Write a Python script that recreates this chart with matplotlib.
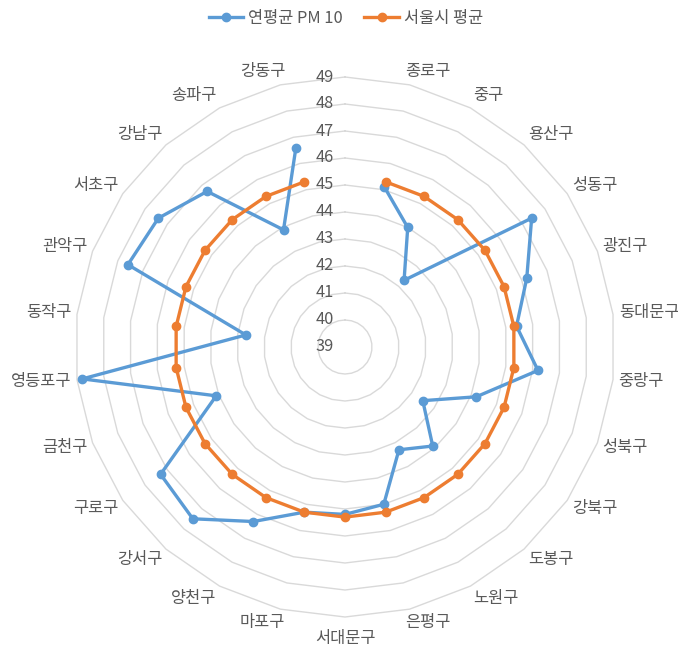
import numpy as np
import matplotlib
matplotlib.use("Agg")
import matplotlib.pyplot as plt
from matplotlib.lines import Line2D

plt.rcParams['font.family'] = ['Noto Sans CJK KR', 'DejaVu Sans']

# Seoul districts, clockwise from the top (the top spoke itself is left blank)
districts = ["종로구", "중구", "용산구", "성동구", "광진구", "동대문구", "중랑구",
             "성북구", "강북구", "도봉구", "노원구", "은평구", "서대문구", "마포구",
             "양천구", "강서구", "구로구", "금천구", "영등포구", "동작구", "관악구",
             "서초구", "강남구", "송파구", "강동구"]

pm10_annual = [45.1, 44.0, 42.3, 47.4, 46.2, 45.4, 46.2, 44.2, 42.5, 43.9,
               43.3, 45.0, 45.2, 45.3, 46.3, 47.5, 47.3, 44.1, 48.8, 42.7,
               47.6, 47.4, 46.7, 43.9, 46.6]

seoul_avg = [45.3] * 25

series_names = ["연평균 PM 10", "서울시 평균"]
radial_ticks = [39, 40, 41, 42, 43, 44, 45, 46, 47, 48, 49]

BLUE = "#5B9BD5"
ORANGE = "#ED7D31"
GRID = "#D9D9D9"
TEXT = "#595959"
FS = 11.8

W, H = 678, 654
fig = plt.figure(figsize=(W / 100, H / 100), dpi=100)

cx, cy, R = 345, 347, 270
ax = fig.add_axes([(cx - R) / W, (H - cy - R) / H, 2 * R / W, 2 * R / H],
                  projection="polar")
ax.set_theta_zero_location("N")
ax.set_theta_direction(-1)
rmin, rmax = radial_ticks[0], radial_ticks[-1]
ax.set_ylim(rmin, rmax)
ax.grid(False)
ax.spines["polar"].set_visible(False)
ax.set_xticks([])
ax.set_yticks([])
ax.patch.set_alpha(0)

n_spokes = len(districts) + 1
spoke_angles = np.arange(n_spokes + 1) * 2 * np.pi / n_spokes
theta = spoke_angles[1:n_spokes]

# polygonal gridlines
for v in radial_ticks[1:]:
    ax.plot(spoke_angles, [v] * len(spoke_angles), color=GRID, lw=1.0,
            zorder=1, clip_on=False)

# data series
ax.plot(theta, pm10_annual, color=BLUE, lw=2.4, marker="o", ms=6,
        zorder=3, clip_on=False)
ax.plot(theta, seoul_avg, color=ORANGE, lw=2.4, marker="o", ms=6,
        zorder=4, clip_on=False)

# radial value labels along the top spoke
for v in radial_ticks:
    ax.annotate(str(v), xy=(0, v), xytext=(-11, 0), textcoords="offset pixels",
                ha="right", va="center", fontsize=FS, color=TEXT,
                annotation_clip=False)

# category labels around the outside
pad = 5
char_w, half_h = 15.5, 8.5
for t, name in zip(theta, districts):
    s, c = np.sin(t), np.cos(t)
    w2 = len(name) * char_w / 2
    dx = np.sign(s) * min(1.0, abs(s) * 3) * w2 + pad * s
    if abs(s) < 1e-6:
        dx = 0
    dy = c * half_h + pad * c
    if c < -0.99:
        dy -= 8
    ax.annotate(name, xy=(t, rmax), xytext=(dx, dy), textcoords="offset pixels",
                ha="center", va="center", fontsize=FS, color=TEXT,
                annotation_clip=False)

handles = [Line2D([], [], color=BLUE, lw=2.4, marker="o", ms=6),
           Line2D([], [], color=ORANGE, lw=2.4, marker="o", ms=6)]
fig.legend(handles, series_names, loc="center", bbox_to_anchor=(346 / W, 1 - 18 / H),
           ncol=2, frameon=False, fontsize=FS, labelcolor=TEXT,
           handlelength=2.1, columnspacing=1.3, handletextpad=0.3)

fig.savefig("out.png", dpi=100)
